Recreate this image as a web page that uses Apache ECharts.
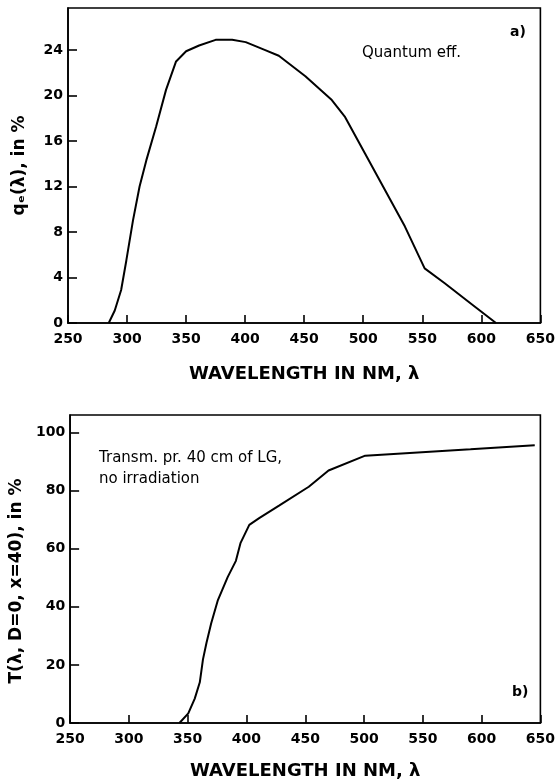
<!DOCTYPE html>
<html>
<head>
<meta charset="UTF-8" />
<script src="https://cdn.jsdelivr.net/npm/echarts@6/dist/echarts.min.js"></script>
<style>
  html, body { margin: 0; padding: 0; background: #fff; }
  #chart { width: 558px; height: 781px; }
</style>
</head>
<body>
<div id="chart"></div>
<script>
// wavelength (nm) and quantum efficiency (%) read off panel a)
const qeWavelength = [284.5, 289.6, 295, 299.4, 305, 310.6, 316.3, 324.7, 333, 341.5, 350, 361, 375, 389, 400.5, 417, 428.5, 451, 473.4, 484.7, 501.5, 518.4, 535.2, 552, 569, 591.3, 612.4];
const qeValue = [0, 1.1, 2.9, 5.5, 9.0, 12.0, 14.3, 17.3, 20.5, 23.0, 23.9, 24.4, 24.9, 24.9, 24.7, 24.0, 23.5, 21.7, 19.6, 18.1, 14.9, 11.7, 8.5, 4.8, 3.5, 1.7, 0];

// wavelength (nm) and transmission (%) read off panel b)
const trWavelength = [343, 350.5, 356, 360.3, 363, 366, 370, 375.7, 384, 391, 395, 402.4, 410.8, 427.7, 453, 469.8, 501, 590.5, 645.2];
const trValue = [0, 3.3, 8.4, 14, 21.9, 27.6, 34.3, 42.3, 50.2, 55.8, 62, 68.2, 70.5, 74.8, 81.3, 86.9, 92, 94.2, 95.6];

const xTicks = [250, 300, 350, 400, 450, 500, 550, 600, 650];
const qeTicks = [0, 4, 8, 12, 16, 20, 24];
const trTicks = [0, 20, 40, 60, 80, 100];

const FONT = 'DejaVu Sans';
const INK = '#000';

function zip(xs, ys) {
  return xs.map((x, i) => [x, ys[i]]);
}

function xAxisFor(gridIndex, nameGap) {
  return {
    gridIndex,
    type: 'value',
    min: xTicks[0],
    max: xTicks[xTicks.length - 1],
    interval: 50,
    name: 'WAVELENGTH IN NM, λ',
    nameLocation: 'middle',
    nameGap,
    nameTextStyle: { fontFamily: FONT, fontSize: 18, fontWeight: 'bold', color: INK },
    axisLine: { lineStyle: { color: INK, width: 1.6 } },
    axisTick: { inside: true, length: 8, lineStyle: { color: INK, width: 1.6 } },
    axisLabel: { fontFamily: FONT, fontSize: 14, fontWeight: 'bold', color: INK, margin: 9 },
    splitLine: { show: false },
  };
}

function yAxisFor(gridIndex, ticks, max, name, shift) {
  const step = ticks[1] - ticks[0];
  return {
    gridIndex,
    type: 'value',
    min: 0,
    max,
    interval: step,
    name,
    nameLocation: 'middle',
    nameRotate: 90,
    nameGap: 40,
    nameTextStyle: {
      fontFamily: FONT, fontSize: 17, fontWeight: 'bold', color: INK,
      padding: [0, shift, 0, 0],
    },
    axisLine: { lineStyle: { color: INK, width: 1.6 } },
    axisTick: { inside: true, length: 9, lineStyle: { color: INK, width: 1.6 } },
    axisLabel: {
      fontFamily: FONT, fontSize: 14, fontWeight: 'bold', color: INK, margin: 5,
      showMaxLabel: false,
      formatter: (v) => (ticks.indexOf(v) >= 0 ? String(v) : ''),
    },
    splitLine: { show: false },
  };
}

function curve(xIndex, data) {
  return {
    type: 'line',
    xAxisIndex: xIndex,
    yAxisIndex: xIndex,
    data,
    showSymbol: false,
    smooth: false,
    lineStyle: { color: INK, width: 2 },
  };
}

const chart = echarts.init(document.getElementById('chart'));
chart.setOption({
  animation: false,
  grid: [
    { left: 68, right: 14, top: 8, height: 315, show: true, borderColor: INK, borderWidth: 1.6 },
    { left: 69, right: 14, top: 415, height: 313, show: true, borderColor: INK, borderWidth: 1.6 },
  ],
  xAxis: [xAxisFor(0, 42), xAxisFor(1, 39)],
  yAxis: [
    yAxisFor(0, qeTicks, 27.7, 'qₑ(λ), in %', 0),
    yAxisFor(1, trTicks, 106, 'T(λ, D=0, x=40), in %', 24),
  ],
  graphic: [
    { type: 'text', left: 510, top: 25, style: { text: 'a)', font: `bold 14px "${FONT}"`, fill: INK } },
    { type: 'text', left: 362, top: 46, style: { text: 'Quantum eff.', font: `15px "${FONT}"`, fill: INK } },
    { type: 'text', left: 99, top: 448, style: { text: 'Transm. pr. 40 cm of LG,\nno irradiation', font: `15px "${FONT}"`, fill: INK, lineHeight: 21 } },
    { type: 'text', left: 512, top: 685, style: { text: 'b)', font: `bold 14px "${FONT}"`, fill: INK } },
  ],
  series: [
    curve(0, zip(qeWavelength, qeValue)),
    curve(1, zip(trWavelength, trValue)),
  ],
});
</script>
</body>
</html>
